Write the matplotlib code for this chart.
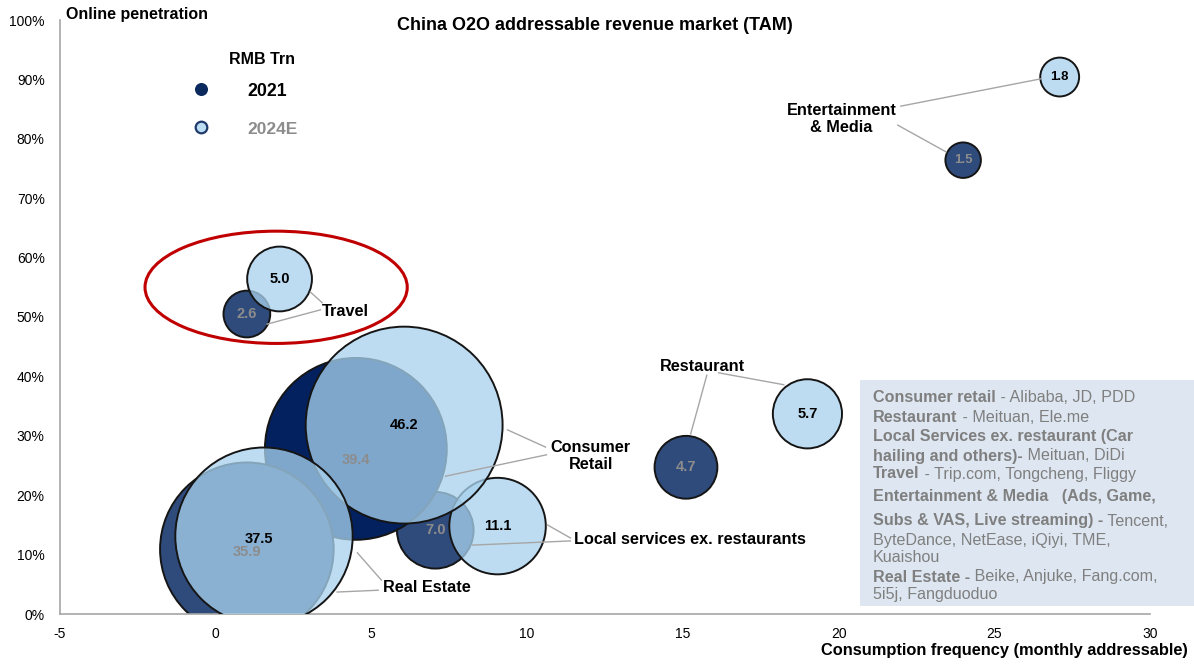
import matplotlib
matplotlib.use("Agg")
import matplotlib.pyplot as plt
from matplotlib.patches import Ellipse, Rectangle
from matplotlib.ticker import PercentFormatter

plt.rcParams["font.family"] = ["Liberation Sans", "DejaVu Sans"]
plt.rcParams["axes.unicode_minus"] = False

# ---- data -------------------------------------------------------------
categories = ["Entertainment & Media", "Travel", "Restaurant",
              "Local services", "Consumer Retail", "Real Estate"]
freq_2021 = [24.0, 1.0, 15.1, 7.05, 4.5, 1.0]
pen_2021 = [76.4, 50.5, 24.7, 14.1, 27.8, 10.9]
tam_2021 = [1.5, 2.6, 4.7, 7.0, 39.4, 35.9]
freq_2024 = [27.1, 2.05, 19.0, 9.05, 6.05, 1.55]
pen_2024 = [90.4, 56.4, 33.7, 14.8, 31.8, 13.1]
tam_2024 = [1.8, 5.0, 5.7, 11.1, 46.2, 37.5]

x_ticks = [-5, 0, 5, 10, 15, 20, 25, 30]
y_ticks = [0, 10, 20, 30, 40, 50, 60, 70, 80, 90, 100]

# category labels: text, x, y, ha, leader lines [(x0, y0, x1, y1), ...]
cat_labels = [
    ("Entertainment\n& Media", 20.1, 83.3, "center",
     [(22.0, 85.5, 26.5, 90.1), (21.9, 82.3, 23.45, 77.8)]),
    ("Travel", 4.16, 51.0, "center",
     [(3.04, 54.2, 3.42, 52.4), (1.65, 48.8, 3.36, 51.2)]),
    ("Restaurant", 15.64, 41.6, "center",
     [(15.77, 40.2, 15.25, 30.3), (16.15, 40.6, 18.24, 38.6)]),
    ("Local services ex. restaurants", 11.5, 12.5, "left",
     [(10.65, 15.0, 11.39, 12.8), (8.24, 11.6, 11.39, 12.3)]),
    ("Consumer\nRetail", 12.04, 26.6, "center",
     [(9.37, 31.0, 10.59, 28.1), (7.38, 23.2, 10.62, 26.8)]),
    ("Real Estate", 5.38, 4.4, "left",
     [(4.55, 10.3, 5.32, 5.7), (3.9, 3.7, 5.22, 4.0)]),
]

box_lines = [
    ("Consumer retail", " - Alibaba, JD, PDD"),
    ("Restaurant", " - Meituan, Ele.me"),
    ("Local Services ex. restaurant (Car", ""),
    ("hailing and others)-", " Meituan, DiDi"),
    ("Travel", " - Trip.com, Tongcheng, Fliggy"),
    ("Entertainment & Media   (Ads, Game,", ""),
    ("Subs & VAS, Live streaming) -", " Tencent,"),
    ("", "ByteDance, NetEase, iQiyi, TME,"),
    ("", "Kuaishou"),
    ("Real Estate -", " Beike, Anjuke, Fang.com,"),
    ("", "5i5j, Fangduoduo"),
]
box_line_y = [398, 418, 437, 456, 474, 497, 521, 540, 558, 577, 595]  # px from top

# ---- style ------------------------------------------------------------
SIZE_K = 435  # points^2 per RMB trn
dark = ["#2f4b7c", "#2f4b7c", "#2f4b7c", "#2f4b7c", "#02215e", "#2f4b7c"]
light = (168 / 255, 210 / 255, 238 / 255, 0.76)
edge = "#151515"
lead = "#a6a6a6"

W, H = 1194, 664
fig = plt.figure(figsize=(W / 100, H / 100), dpi=100)
ax = fig.add_axes([60 / W, 50 / H, 1090 / W, 594 / H])

ax.scatter(freq_2021, pen_2021, s=[v * SIZE_K for v in tam_2021], c=dark,
           edgecolors=edge, linewidths=1.4, zorder=2)
ax.scatter(freq_2024, pen_2024, s=[v * SIZE_K for v in tam_2024], c=[light],
           edgecolors=edge, linewidths=1.4, zorder=3)

for i, cat in enumerate(categories):
    fs = 9.5 if cat.startswith("Entertainment") else 10.5
    dx21 = dy21 = dx24 = dy24 = 0
    if cat == "Consumer Retail":
        dy21 = -1.9
    if cat == "Real Estate":
        dy21, dx24, dy24 = -0.4, -0.15, -0.5
    ax.text(freq_2021[i] + dx21, pen_2021[i] + dy21, f"{tam_2021[i]:.1f}", ha="center",
            va="center", fontsize=fs, fontweight="bold", color="#8c8c8c", zorder=6)
    ax.text(freq_2024[i] + dx24, pen_2024[i] + dy24, f"{tam_2024[i]:.1f}", ha="center",
            va="center", fontsize=fs, fontweight="bold", color="black", zorder=6)

for text, lx, ly, ha, lines in cat_labels:
    ax.text(lx, ly, text, ha=ha, va="center", fontsize=11.7, fontweight="bold",
            linespacing=1.15, zorder=7)
    for x0, y0, x1, y1 in lines:
        ax.plot([x0, x1], [y0, y1], color=lead, lw=1, zorder=5)

# red highlight around Travel
ax.add_patch(Ellipse((1.94, 55.0), 8.42, 18.9, fill=False, edgecolor="#c00000",
                     lw=2.2, zorder=8))

ax.set_xlim(-5, 30)
ax.set_ylim(0, 100)
ax.set_xticks(x_ticks)
ax.set_yticks(y_ticks)
ax.yaxis.set_major_formatter(PercentFormatter(decimals=0))
ax.tick_params(length=0, labelsize=10)
ax.tick_params(axis="y", pad=11)
ax.tick_params(axis="x", pad=9)
for side in ["top", "right"]:
    ax.spines[side].set_visible(False)
for side in ["left", "bottom"]:
    ax.spines[side].set_color("#a6a6a6")
    ax.spines[side].set_linewidth(1.2)

# legend
ax.text(0.185, 0.934, "RMB Trn", transform=ax.transAxes, ha="center", va="center",
        fontsize=11.5, fontweight="bold")
ax.scatter([0.129], [0.884], s=70, c="#0a2a5e", edgecolors="#0a2a5e",
           transform=ax.transAxes, clip_on=False, zorder=9)
ax.scatter([0.129], [0.820], s=70, c=[(189 / 255, 221 / 255, 242 / 255)],
           edgecolors="#1f3a6a", linewidths=1.6, transform=ax.transAxes,
           clip_on=False, zorder=9)
ax.text(0.172, 0.879, "2021", transform=ax.transAxes, ha="left", va="center",
        fontsize=12.8, fontweight="bold")
ax.text(0.172, 0.816, "2024E", transform=ax.transAxes, ha="left", va="center",
        fontsize=12.5, fontweight="bold", color="#8c8c8c")

# titles
fig.text(595 / W, 1 - 25 / H, "China O2O addressable revenue market (TAM)",
         ha="center", va="center", fontsize=13, fontweight="bold")
fig.text(66 / W, 1 - 14 / H, "Online penetration", ha="left", va="center",
         fontsize=11.5, fontweight="bold")
fig.text(1188 / W, 1 - 651 / H, "Consumption frequency (monthly addressable)",
         ha="right", va="center", fontsize=11.8, fontweight="bold")

# company box
fig.patches.append(Rectangle((860 / W, 1 - 606 / H), 340 / W, 226 / H,
                             transform=fig.transFigure, facecolor="#dee7f1",
                             edgecolor="none", zorder=10))
renderer = fig.canvas.get_renderer()
gray = "#7f7f7f"
for (bold, rest), py in zip(box_lines, box_line_y):
    x = 873 / W
    y = 1 - py / H
    if bold:
        t = fig.text(x, y, bold, ha="left", va="center", fontsize=11.6,
                     fontweight="bold", color=gray, zorder=11)
        x = t.get_window_extent(renderer=renderer).x1 / fig.bbox.width
    if rest:
        fig.text(x, y, rest, ha="left", va="center", fontsize=11.6,
                 color=gray, zorder=11)

fig.savefig("out.png", dpi=100)
